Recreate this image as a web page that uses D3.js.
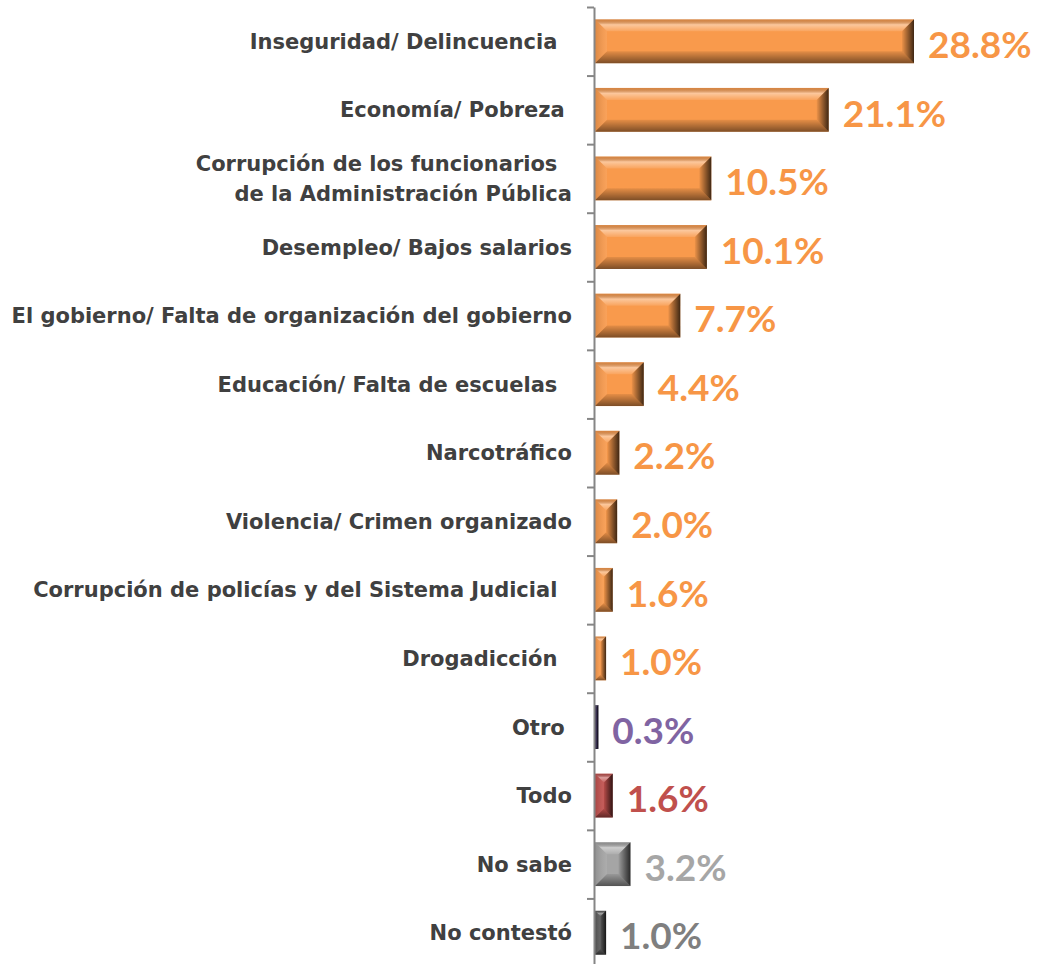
<!DOCTYPE html>
<meta charset="utf-8">
<script src="https://d3js.org/d3.v7.min.js"></script>
<style>
  body { margin: 0; background: #fff; }
  text { white-space: pre; }
</style>
<div id="chart"></div>
<script>
// data
var categories = [
  "Inseguridad/ Delincuencia  ",
  "Economía/ Pobreza ",
  "Corrupción de los funcionarios  \nde la Administración Pública",
  "Desempleo/ Bajos salarios",
  "El gobierno/ Falta de organización del gobierno",
  "Educación/ Falta de escuelas  ",
  "Narcotráfico",
  "Violencia/ Crimen organizado",
  "Corrupción de policías y del Sistema Judicial  ",
  "Drogadicción  ",
  "Otro ",
  "Todo",
  "No sabe",
  "No contestó"
];
var values = [28.8, 21.1, 10.5, 10.1, 7.7, 4.4, 2.2, 2.0, 1.6, 1.0, 0.3, 1.6, 3.2, 1.0];
var barColors = ["#F99A4C", "#F99A4C", "#F99A4C", "#F99A4C", "#F99A4C", "#F99A4C", "#F99A4C",
                 "#F99A4C", "#F99A4C", "#F99A4C", "#2E2548", "#C0504D", "#A5A5A5", "#595959"];
var labelColors = ["#F79646", "#F79646", "#F79646", "#F79646", "#F79646", "#F79646", "#F79646",
                   "#F79646", "#F79646", "#F79646", "#8064A2", "#C0504D", "#A6A6A6", "#7F7F7F"];

var data = categories.map((c, i) => ({cat: c, value: values[i], color: barColors[i], lcolor: labelColors[i], idx: i}));

var W = 1037, H = 964;
var x0 = 594;

var svg = d3.select("#chart").append("svg")
  .attr("width", W).attr("height", H);

// gradients for the bevel faces
var defs = svg.append("defs");
function grad(id, x2, y2, stops) {
  var g = defs.append("linearGradient").attr("id", id)
    .attr("x1", 0).attr("y1", 0).attr("x2", x2).attr("y2", y2);
  stops.forEach(s => g.append("stop").attr("offset", s[0]).attr("stop-color", s[1]).attr("stop-opacity", s[2]));
}
grad("gTop", 0, 1, [[0, "#000", 0.12], [0.45, "#fff", 0.45], [1, "#fff", 0.1]]);
grad("gLeft", 1, 0, [[0, "#000", 0.12], [1, "#fff", 0.08]]);
grad("gRight", 1, 0, [[0, "#000", 0.05], [1, "#000", 0.75]]);
grad("gBottom", 0, 1, [[0, "#000", 0.08], [1, "#000", 0.5]]);

var x = d3.scaleLinear().domain([0, 28.8]).range([x0, 913]);
var y = d3.scaleBand()
  .domain(d3.range(categories.length))
  .range([7, 967])
  .paddingInner(0.36)
  .paddingOuter(0.18);

// bars
var bars = svg.selectAll(".bar")
  .data(data)
  .enter().append("g")
  .attr("class", "bar");

bars.each(function(d) {
  var g = d3.select(this);
  var bx = x(0) + 1, by = y(d.idx), bw = x(d.value) - x(0), bh = y.bandwidth();
  var b = Math.min(12, bw / 2, bh / 2);
  g.append("rect")
    .attr("x", bx).attr("y", by).attr("width", bw).attr("height", bh)
    .attr("fill", d.color);
  g.append("polygon")
    .attr("points", [[bx, by], [bx + bw, by], [bx + bw - b, by + b], [bx + b, by + b]].join(" "))
    .attr("fill", "url(#gTop)");
  g.append("polygon")
    .attr("points", [[bx, by], [bx + b, by + b], [bx + b, by + bh - b], [bx, by + bh]].join(" "))
    .attr("fill", "url(#gLeft)");
  g.append("polygon")
    .attr("points", [[bx + bw, by], [bx + bw, by + bh], [bx + bw - b, by + bh - b], [bx + bw - b, by + b]].join(" "))
    .attr("fill", "url(#gRight)");
  g.append("polygon")
    .attr("points", [[bx, by + bh], [bx + bw, by + bh], [bx + bw - b, by + bh - b], [bx + b, by + bh - b]].join(" "))
    .attr("fill", "url(#gBottom)");
});

// value labels
svg.selectAll(".val")
  .data(data)
  .enter().append("text")
  .attr("class", "val")
  .attr("x", d => x(d.value) + 15)
  .attr("y", d => y(d.idx) + y.bandwidth() / 2)
  .attr("dy", "0.45em")
  .attr("fill", d => d.lcolor)
  .style("font-family", "Lato, sans-serif")
  .style("font-weight", "bold")
  .style("font-size", "37px")
  .text(d => d.value.toFixed(1) + "%");

// category labels
var labels = svg.selectAll(".cat")
  .data(data)
  .enter().append("text")
  .attr("class", "cat")
  .attr("text-anchor", "end")
  .attr("fill", "#404040")
  .style("font-family", "'DejaVu Sans', sans-serif")
  .style("font-weight", "bold")
  .style("font-size", "21px");

labels.each(function(d) {
  var lines = d.cat.split("\n");
  var cy = y(d.idx) + y.bandwidth() / 2;
  var lh = 30;
  lines.forEach((l, j) => {
    d3.select(this).append("tspan")
      .attr("x", 572)
      .attr("y", cy + (j - (lines.length - 1) / 2) * lh)
      .attr("dy", "0.36em")
      .text(l);
  });
});

// axis with ticks at category boundaries
var yb = d3.scaleLinear().domain([0, categories.length]).range([7, 967]);
svg.append("g")
  .attr("transform", "translate(" + x0 + ",0)")
  .call(d3.axisLeft(yb).tickValues(d3.range(categories.length + 1)).tickSize(7).tickSizeOuter(0).tickFormat(""))
  .call(g => g.selectAll("line, path").attr("stroke", "#868686").attr("stroke-width", 2));
</script>
